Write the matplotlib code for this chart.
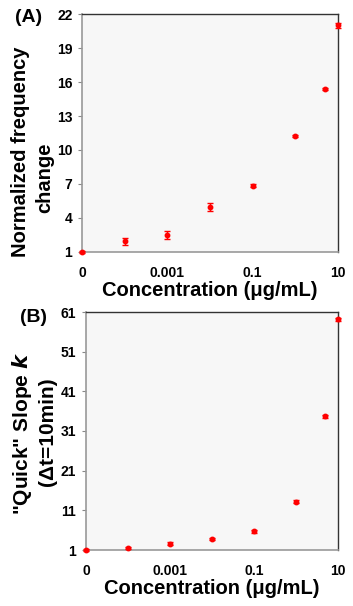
import matplotlib
matplotlib.use("Agg")
import matplotlib.pyplot as plt
import numpy as np

plt.rcParams['font.family'] = ['Liberation Sans', 'DejaVu Sans']

conc = [1e-5, 1e-4, 1e-3, 1e-2, 0.1, 1, 5, 10]
xtick_vals = [1e-5, 1e-3, 0.1, 10]
xtick_labels = ["0", "0.001", "0.1", "10"]

freq = [1.0, 1.94, 2.5, 4.98, 6.86, 11.22, 15.37, 21.0]
freq_err = [0.05, 0.28, 0.35, 0.35, 0.1, 0.1, 0.1, 0.2]
yticks_a = [1, 4, 7, 10, 13, 16, 19, 22]

slope = [1.0, 1.5, 2.6, 3.7, 5.7, 13.2, 34.7, 59.2]
slope_err = [0.2, 0.3, 0.3, 0.3, 0.3, 0.4, 0.4, 0.4]
yticks_b = [1, 11, 21, 31, 41, 51, 61]

W, H = 353, 606
fig = plt.figure(figsize=(W/100, H/100), dpi=100)

def make_ax(l, r, t, b):
    return fig.add_axes([l/W, 1 - b/H, (r-l)/W, (b-t)/H])

def ftext(x, y, s, size):
    fig.text(x/W, 1 - y/H, s, rotation=90, ha='center', va='center',
             fontweight='bold', fontsize=size)

def style(ax, x, y, e, yt, panel, py):
    ax.set_facecolor('#f7f7f7')
    ax.errorbar(x, y, yerr=e, fmt='o', color='#ff0000', ms=3.2,
                elinewidth=1, capsize=2, capthick=1, zorder=3, clip_on=False)
    ax.set_xscale('log')
    ax.set_xlim(1e-5, 10)
    ax.set_ylim(yt[0], yt[-1])
    ax.set_yticks(yt)
    ax.set_yticklabels([str(v) for v in yt], fontweight='bold', fontsize=10)
    ax.set_xticks(xtick_vals)
    ax.set_xticklabels(xtick_labels, fontweight='bold', fontsize=10)
    ax.xaxis.set_minor_locator(matplotlib.ticker.NullLocator())
    ax.tick_params(axis='x', length=0, pad=10)
    ax.tick_params(axis='y', length=3, width=0.8, color='#888888', pad=4)
    for s in ['left', 'bottom']:
        ax.spines[s].set_color('#999999')
        ax.spines[s].set_linewidth(1.2)
    for s in ['top', 'right']:
        ax.spines[s].set_color('#333333')
        ax.spines[s].set_linewidth(1.0)
    ax.set_xlabel('Concentration (μg/mL)', fontweight='bold', fontsize=14.5, labelpad=1)
    ax.text(-0.26, py, panel, transform=ax.transAxes, fontweight='bold',
            fontsize=14, ha='left', va='center')

ax1 = make_ax(82, 338, 14, 252)
style(ax1, conc, freq, freq_err, yticks_a, '(A)', 0.985)
ftext(21, 152, 'Normalized frequency', 14.5)
ftext(45, 178, 'change', 14.5)

ax2 = make_ax(86, 338, 312, 550)
style(ax2, conc, slope, slope_err, yticks_b, '(B)', 0.975)
ftext(22, 433, '"Quick" Slope $\\boldsymbol{k}$', 15)
ftext(47, 432, '(Δt=10min)', 15)

fig.savefig('out.png', dpi=100)
